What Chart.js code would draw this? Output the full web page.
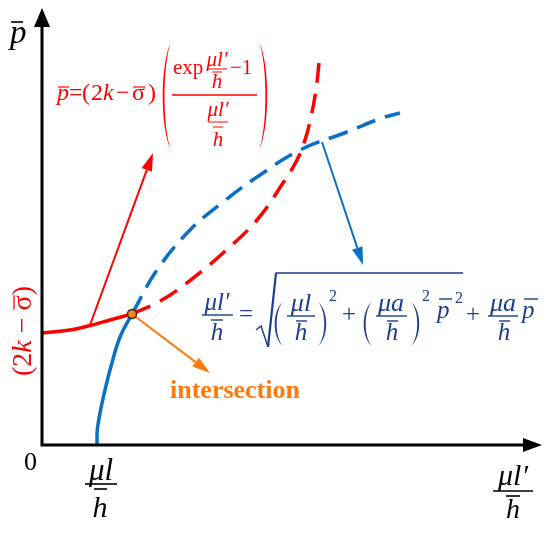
<!DOCTYPE html>
<html>
<head>
<meta charset="utf-8">
<script src="https://cdn.jsdelivr.net/npm/chart.js@4.4.1/dist/chart.umd.min.js"></script>
<style>
  html, body { margin: 0; padding: 0; background: #fff; }
  canvas { display: block; }
</style>
</head>
<body>
<canvas id="curvas" width="550" height="535"></canvas>
<script>
// Curva roja (solución exponencial): tramo continuo y tramo discontinuo
const redSolidX = [0, 28, 48, 68, 90];
const redSolidY = [112, 115, 119.5, 125, 131];
const redDashX = [90, 120, 150, 181, 215, 241, 255, 263, 269, 274, 277];
const redDashY = [131, 145, 166, 192, 225, 262, 285, 305, 328, 355, 382];

// Curva azul (raíz cuadrada)
const blueSolidX = [55, 55.3, 58, 63, 68, 78, 90];
const blueSolidY = [0, 15, 32, 55, 75, 108, 131];
const blueDashX = [90, 115, 148, 181, 215, 258, 305, 340, 358];
const blueDashY = [131, 175, 215, 243, 268, 295, 313, 327, 332];

// Punto de intersección
const crossX = [90];
const crossY = [131];

// Flechas: [desdeX, desdeY, hastaX, hastaY]
const redArrow = [48, 120, 111, 292];
const blueArrow = [280, 303, 321, 180];
const orangeArrow = [90, 131, 168, 72];

// Rango de ejes
const xRange = [0, 500];
const yRange = [0, 437];

const RED = '#ff0000';
const BLUE = '#0b6fc4';
const NAVY = '#1c3d8e';
const ORANGE = '#ff7a0a';
const SERIF = '"Liberation Serif", "Times New Roman", serif';

function zip(xs, ys) {
    return xs.map((x, i) => ({ x: x, y: ys[i] }));
}

function t(ctx, s, x, y, size, style, align) {
    ctx.font = (style || 'normal') + ' ' + size + 'px ' + SERIF;
    ctx.textAlign = align || 'left';
    ctx.textBaseline = 'alphabetic';
    ctx.fillText(s, x, y);
}

function hline(ctx, x1, x2, y, w) {
    ctx.lineWidth = w || 1.3;
    ctx.beginPath();
    ctx.moveTo(x1, y);
    ctx.lineTo(x2, y);
    ctx.stroke();
}

// paréntesis grande dibujado como media luna; dir -1 = izquierdo, 1 = derecho
function paren(ctx, x, y1, y2, dir, bulge, thick) {
    const h = y2 - y1;
    ctx.beginPath();
    ctx.moveTo(x, y1);
    ctx.bezierCurveTo(x + dir * bulge, y1 + h * 0.2, x + dir * bulge, y1 + h * 0.8, x, y2);
    ctx.bezierCurveTo(x + dir * (bulge - thick), y1 + h * 0.8, x + dir * (bulge - thick), y1 + h * 0.2, x, y1);
    ctx.fill();
}

function arrow(ctx, x1, y1, x2, y2, color, lw, len, half) {
    const ang = Math.atan2(y2 - y1, x2 - x1);
    const bx = x2 - Math.cos(ang) * len;
    const by = y2 - Math.sin(ang) * len;
    ctx.strokeStyle = color;
    ctx.fillStyle = color;
    ctx.lineWidth = lw;
    ctx.beginPath();
    ctx.moveTo(x1, y1);
    ctx.lineTo(bx, by);
    ctx.stroke();
    ctx.beginPath();
    ctx.moveTo(x2, y2);
    ctx.lineTo(bx + Math.sin(ang) * half, by - Math.cos(ang) * half);
    ctx.lineTo(bx - Math.sin(ang) * half, by + Math.cos(ang) * half);
    ctx.closePath();
    ctx.fill();
}

// Flechas bajo las curvas
const flechasPlugin = {
    id: 'flechas',
    beforeDatasetsDraw(chart) {
        const ctx = chart.ctx;
        const sx = chart.scales.x, sy = chart.scales.y;
        const draw = (a, color) => arrow(ctx,
            sx.getPixelForValue(a[0]), sy.getPixelForValue(a[1]),
            sx.getPixelForValue(a[2]), sy.getPixelForValue(a[3]), color, 2, 18, 5.5);
        ctx.save();
        draw(redArrow, RED);
        draw(blueArrow, BLUE);
        draw(orangeArrow, ORANGE);
        ctx.restore();
    }
};

// Ejes con punta de flecha
const ejesPlugin = {
    id: 'ejes',
    afterDatasetsDraw(chart) {
        const ctx = chart.ctx;
        const sx = chart.scales.x, sy = chart.scales.y;
        const x0 = sx.getPixelForValue(xRange[0]);
        const y0 = sy.getPixelForValue(yRange[0]);
        const xEnd = sx.getPixelForValue(xRange[1]);
        const yEnd = sy.getPixelForValue(yRange[1]);
        ctx.save();
        ctx.strokeStyle = '#000';
        ctx.fillStyle = '#000';
        ctx.lineWidth = 3;
        ctx.beginPath();
        ctx.moveTo(x0, yEnd + 16);
        ctx.lineTo(x0, y0);
        ctx.lineTo(xEnd - 16, y0);
        ctx.stroke();
        ctx.beginPath();
        ctx.moveTo(x0, yEnd);
        ctx.lineTo(x0 - 8, yEnd + 19);
        ctx.lineTo(x0 + 8, yEnd + 19);
        ctx.closePath();
        ctx.fill();
        ctx.beginPath();
        ctx.moveTo(xEnd, y0);
        ctx.lineTo(xEnd - 19, y0 - 7);
        ctx.lineTo(xEnd - 19, y0 + 7);
        ctx.closePath();
        ctx.fill();
        ctx.restore();
    }
};

// Textos y fórmulas
const formulasPlugin = {
    id: 'formulas',
    afterDraw(chart) {
        const ctx = chart.ctx;
        ctx.save();

        // etiquetas de los ejes
        ctx.fillStyle = '#000';
        ctx.strokeStyle = '#000';
        t(ctx, 'p', 10, 43, 33, 'italic');
        hline(ctx, 11, 23, 22, 1.6);
        t(ctx, '0', 24, 470, 26);
        t(ctx, 'μl', 101, 480, 31, 'italic', 'center');
        hline(ctx, 85, 117, 484, 1.6);
        t(ctx, 'h', 100, 517, 30, 'italic', 'center');
        hline(ctx, 94, 107, 489, 1.6);
        t(ctx, 'μl′', 513, 485, 30, 'italic', 'center');
        hline(ctx, 493, 533, 491, 1.6);
        t(ctx, 'h', 513, 518, 28, 'italic', 'center');
        hline(ctx, 506, 520, 496, 1.6);

        // fórmula roja
        ctx.fillStyle = RED;
        ctx.strokeStyle = RED;
        t(ctx, 'p', 57, 100, 24, 'italic');
        hline(ctx, 58, 69, 87, 1.2);
        t(ctx, '=', 69, 100, 24);
        t(ctx, '(', 82, 100, 24);
        t(ctx, '2', 91, 100, 24);
        t(ctx, 'k', 103, 100, 24, 'italic');
        t(ctx, '−', 116, 100, 24);
        t(ctx, 'σ', 132, 100, 24);
        hline(ctx, 133, 145, 87, 1.2);
        t(ctx, ')', 148, 100, 24);
        paren(ctx, 171, 42, 150, -1, 11, 2.4);
        paren(ctx, 259, 42, 150, 1, 11, 2.4);
        t(ctx, 'exp', 173, 74, 21);
        t(ctx, 'μl′', 217, 66, 21, 'italic', 'center');
        hline(ctx, 207, 227, 69, 1);
        t(ctx, 'h', 217, 88, 21, 'italic', 'center');
        hline(ctx, 212, 222, 72, 1);
        t(ctx, '−1', 230, 74, 21);
        hline(ctx, 172, 257, 95, 1.3);
        t(ctx, 'μl′', 218, 116, 21, 'italic', 'center');
        hline(ctx, 208, 228, 122, 1);
        t(ctx, 'h', 218, 146, 21, 'italic', 'center');
        hline(ctx, 213, 223, 127, 1);

        // etiqueta vertical (2k − σ)
        ctx.save();
        ctx.translate(31, 331);
        ctx.rotate(-Math.PI / 2);
        const piezas = [['(2', 'normal'], ['k', 'italic'], [' − ', 'normal'], ['σ', 'normal'], [')', 'normal']];
        let total = 0;
        piezas.forEach(p => {
            ctx.font = p[1] + ' 28px ' + SERIF;
            p.push(ctx.measureText(p[0]).width);
            total += p[2];
        });
        let px = -total / 2;
        piezas.forEach(p => {
            t(ctx, p[0], px, 0, 28, p[1]);
            if (p[0] === 'σ') hline(ctx, px + 1, px + p[2], -17, 1.3);
            px += p[2];
        });
        ctx.restore();

        // fórmula azul
        ctx.fillStyle = NAVY;
        ctx.strokeStyle = NAVY;
        t(ctx, 'μl′', 217, 310, 25, 'italic', 'center');
        hline(ctx, 202, 233, 315, 1.4);
        t(ctx, 'h', 217, 340, 25, 'italic', 'center');
        hline(ctx, 211, 223, 320, 1.4);
        t(ctx, '=', 239, 322, 25);
        ctx.lineWidth = 1.4;
        ctx.beginPath();
        ctx.moveTo(256, 330);
        ctx.lineTo(261, 326);
        ctx.lineTo(268, 347);
        ctx.stroke();
        ctx.lineWidth = 2.2;
        ctx.beginPath();
        ctx.moveTo(268, 347);
        ctx.lineTo(276, 273);
        ctx.stroke();
        hline(ctx, 275.5, 463, 273, 1.4);
        paren(ctx, 283, 302, 346, -1, 11, 2.6);
        t(ctx, 'μl', 301, 311, 26, 'italic', 'center');
        hline(ctx, 287, 315, 316, 1.4);
        t(ctx, 'h', 301, 340, 25, 'italic', 'center');
        hline(ctx, 296, 307, 321, 1.4);
        paren(ctx, 318, 302, 346, 1, 11, 2.6);
        t(ctx, '2', 329, 301, 16);
        t(ctx, '+', 342, 322, 25);
        paren(ctx, 372, 302, 346, -1, 11, 2.6);
        t(ctx, 'μa', 391, 311, 26, 'italic', 'center');
        hline(ctx, 376, 407, 316, 1.4);
        t(ctx, 'h', 392, 340, 25, 'italic', 'center');
        hline(ctx, 387, 398, 321, 1.4);
        paren(ctx, 411, 302, 346, 1, 11, 2.6);
        t(ctx, '2', 422, 301, 16);
        t(ctx, 'p', 437, 318, 25, 'italic');
        hline(ctx, 439, 452, 299, 1.4);
        t(ctx, '2', 455, 303, 16);
        t(ctx, '+', 466, 322, 25);
        t(ctx, 'μa', 503, 311, 26, 'italic', 'center');
        hline(ctx, 488, 518, 316, 1.4);
        t(ctx, 'h', 504, 340, 25, 'italic', 'center');
        hline(ctx, 499, 510, 321, 1.4);
        t(ctx, 'p', 522, 318, 25, 'italic');
        hline(ctx, 524, 538, 299, 1.4);

        // texto naranja
        ctx.fillStyle = ORANGE;
        t(ctx, 'intersection', 170, 398, 26, 'bold');

        ctx.restore();
    }
};

document.addEventListener('DOMContentLoaded', function() {
    const ctx = document.getElementById('curvas').getContext('2d');
    const linea = (xs, ys, color, dash) => ({
        data: zip(xs, ys),
        showLine: true,
        borderColor: color,
        borderWidth: 3.5,
        borderDash: dash || [],
        pointRadius: 0,
        tension: 0.4
    });
    new Chart(ctx, {
        type: 'scatter',
        data: {
            datasets: [
                {
                    data: zip(crossX, crossY),
                    pointRadius: 4.5,
                    pointBackgroundColor: '#ff8614',
                    pointBorderColor: '#2a2a2a',
                    pointBorderWidth: 1.5,
                    showLine: false
                },
                linea(redSolidX, redSolidY, RED),
                linea(redDashX, redDashY, RED, [20, 11]),
                linea(blueSolidX, blueSolidY, BLUE),
                linea(blueDashX, blueDashY, BLUE, [20, 10])
            ]
        },
        options: {
            responsive: false,
            animation: false,
            events: [],
            clip: false,
            layout: { padding: { left: 42, right: 8, top: 8, bottom: 90 } },
            scales: {
                x: { type: 'linear', min: xRange[0], max: xRange[1], display: false },
                y: { type: 'linear', min: yRange[0], max: yRange[1], display: false }
            },
            plugins: {
                legend: { display: false },
                tooltip: { enabled: false }
            }
        },
        plugins: [flechasPlugin, ejesPlugin, formulasPlugin]
    });
});
</script>
</body>
</html>
